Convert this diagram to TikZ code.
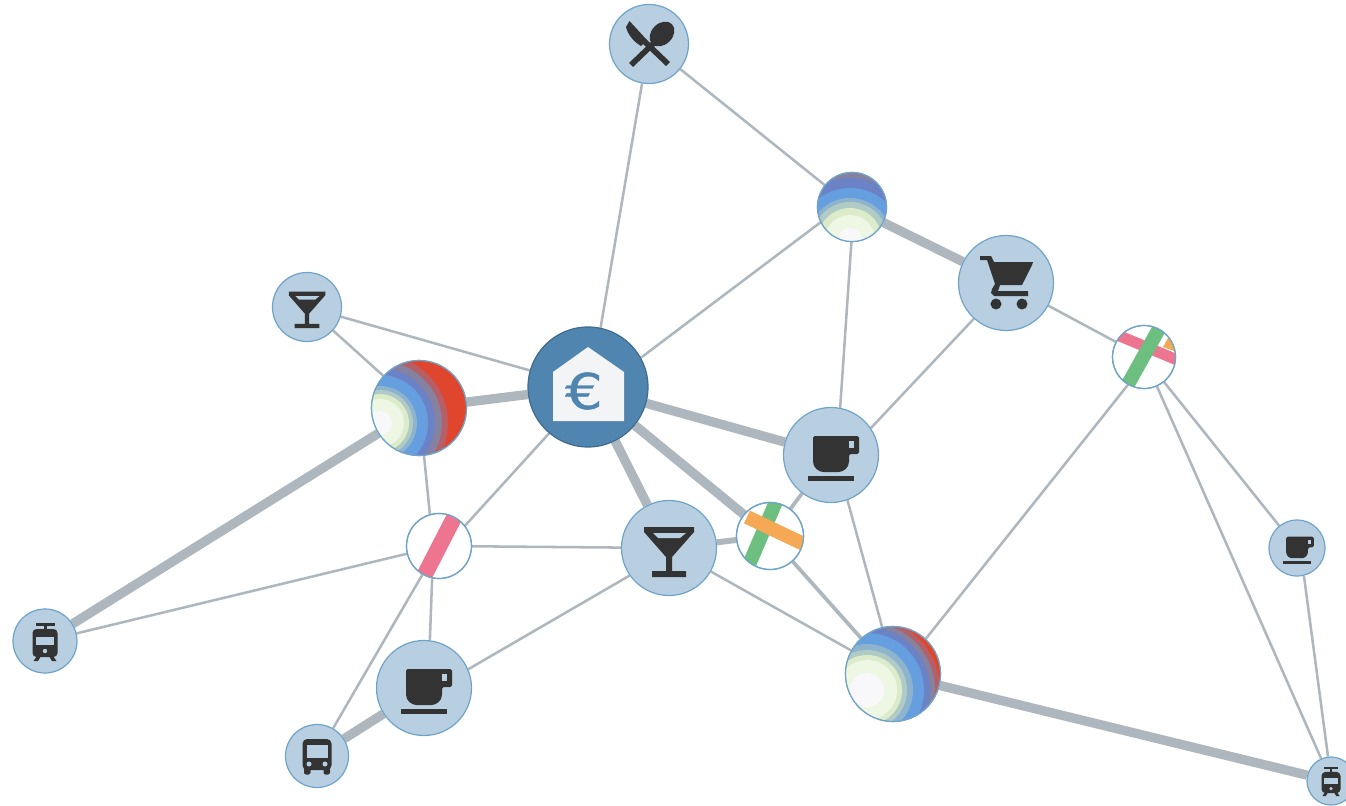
\documentclass[tikz,border=0pt]{standalone}
\usepackage{fontspec}
\newfontfamily\eurofont[FakeBold=0.8,FakeStretch=1.2]{DejaVu Sans}
\usetikzlibrary{backgrounds}
\definecolor{nodeblue}{HTML}{B7CFE0}
\definecolor{nodeline}{HTML}{6FA3C9}
\definecolor{eurofill}{HTML}{5085AF}
\definecolor{euroline}{HTML}{3F6C90}
\definecolor{edgecol}{HTML}{AEB7BE}
\definecolor{icondark}{HTML}{333333}
\definecolor{housewhite}{HTML}{F3F4F6}
\definecolor{bA}{HTML}{F8F8FB}
\definecolor{bB}{HTML}{EEF6E4}
\definecolor{bC}{HTML}{DCECCB}
\definecolor{bD}{HTML}{B0CBC6}
\definecolor{bE}{HTML}{8DB4CC}
\definecolor{bF}{HTML}{659FE0}
\definecolor{bG}{HTML}{6B82C6}
\definecolor{bH}{HTML}{85819F}
\definecolor{bI}{HTML}{B65F66}
\definecolor{bJ}{HTML}{E0462E}
\definecolor{stripePink}{HTML}{EE7590}
\definecolor{stripeGreen}{HTML}{6CBF7F}
\definecolor{stripeOrange}{HTML}{F5A955}
\tikzset{
  x=0.75pt,y=-0.75pt,
  hub/.style={circle,draw=nodeline,line width=0.9pt,fill=nodeblue,inner sep=0pt,minimum size={(#1-1)*0.75pt}},
  ballnode/.style={circle,draw=nodeline,line width=0.9pt,fill=white,inner sep=0pt,minimum size={(#1-1)*0.75pt}},
  euronode/.style={circle,draw=euroline,line width=0.9pt,fill=eurofill,inner sep=0pt,minimum size={(#1-1)*0.75pt}},
  thinedge/.style={draw=edgecol,line width=1.9pt},
  midedge/.style={draw=edgecol,line width=2.8pt},
  fatedge/.style={draw=edgecol,line width=7pt},
  icon/.style={fill=icondark,draw=none},
  iconhole/.style={fill=nodeblue,draw=none},
  stripeline/.style={line width=#1*0.75pt}
}
\newcommand{\iconCup}[2]{\begin{scope}[shift={(#1.center)},scale=#2]
  \fill[icon,rounded corners=1.2pt] (-18,-19) -- (28,-19) -- (28,-1) -- (18,-1) -- (18,5) .. controls (18,13) and (12,17) .. (6,17) -- (-6,17) .. controls (-12,17) and (-18,13) .. (-18,5) -- cycle;
  \fill[iconhole] (18,-14) rectangle (23,-7);
  \fill[icon] (-23,21) rectangle (23,26);
\end{scope}}
\newcommand{\iconGlass}[2]{\begin{scope}[shift={(#1.center)},scale=#2]
  \fill[icon] (-25,-21) -- (25,-21) -- (25,-16) -- (3,9) -- (3,23) -- (17,23) -- (17,29) -- (-17,29) -- (-17,23) -- (-3,23) -- (-3,9) -- (-25,-16) -- cycle;
  \fill[iconhole] (-16,-15) -- (17,-15) -- (11,-10) -- (-11,-10) -- cycle;
\end{scope}}
\newcommand{\iconTram}[2]{\begin{scope}[shift={(#1.center)},scale=#2]
  \fill[icon] (-9.5,-18.5) rectangle (9.5,-15.5);
  \fill[icon] (-1.5,-16) rectangle (1.5,-11);
  \fill[icon,rounded corners=3pt] (-12.5,-12) rectangle (12.5,16);
  \fill[iconhole] (-9,-4.5) rectangle (9,4);
  \fill[iconhole] (0,10) circle (2.2);
  \fill[icon] (-8,15) -- (-4,15) -- (-7,20) -- (-11.5,20) -- cycle;
  \fill[icon] (8,15) -- (4,15) -- (7,20) -- (11.5,20) -- cycle;
\end{scope}}
\newcommand{\iconBus}[2]{\begin{scope}[shift={(#1.center)},scale=#2]
  \fill[icon,rounded corners=3.5pt] (-14.5,-17) rectangle (14.5,14);
  \fill[iconhole] (-10.5,-11) rectangle (10.5,2);
  \fill[iconhole] (-8,8) circle (2.5);
  \fill[iconhole] (8,8) circle (2.5);
  \fill[icon,rounded corners=1.5pt] (-13,12) rectangle (-6.5,18.5);
  \fill[icon,rounded corners=1.5pt] (6.5,12) rectangle (13,18.5);
\end{scope}}
\newcommand{\iconCart}[2]{\begin{scope}[shift={(#1.center)},scale=#2]
  \fill[icon] (-26,-27) -- (-15,-27) -- (-12,-21) -- (27,-21) -- (26,-18) -- (16,2) -- (-6,2) -- (-8,8) -- (22,8) -- (22,13) -- (-12,13) -- (-15,10) -- (-14,6) -- (-11,1) -- (-19,-23) -- (-26,-23) -- cycle;
  \fill[icon] (-10,21) circle (5.5);
  \fill[icon] (16,21) circle (5.5);
\end{scope}}
\newcommand{\iconCutlery}[2]{\begin{scope}[shift={(#1.center)},scale=#2]
  \fill[icon] (-19.5,-23) -- (-3,-5) -- (21,18) -- (17,22) -- (-6,0) -- (-8,2) .. controls (-15,-2) and (-21,-9) .. (-23,-17) -- cycle;
  \fill[icon,rotate around={45:(13,-10)}] (13,-10) ellipse (14 and 10.5);
  \fill[icon] (5,-5) -- (9,-1) -- (-16,23) -- (-20,19) -- cycle;
\end{scope}}
\newcommand{\ballfill}[4]{% node, cx, cy, radii list
  \begin{scope}
    \clip (#1.center) circle (#4);
    \fill[bJ] (#1.center) circle (#4);
    \foreach \rad/\col in {#3}{\fill[\col] (#2) circle (\rad);}
  \end{scope}
  \draw[nodeline,line width=0.9pt] (#1.center) circle (#4);
}
\begin{document}
\begin{tikzpicture}
\useasboundingbox (0,0) rectangle (1346,806);
% nodes
\node[hub=80] (spoon) at (649,44) {};
\node[ballnode=70] (ballT) at (852,207) {};
\node[hub=96] (cart) at (1006,283) {};
\node[ballnode=64] (crossR) at (1144,357) {};
\node[hub=70] (glassS) at (307,307) {};
\node[euronode=121] (euro) at (588,387) {};
\node[ballnode=96] (ballL) at (419,408) {};
\node[hub=96] (cupC) at (831,455) {};
\node[ballnode=66] (pink) at (439,546) {};
\node[hub=96] (glassB) at (669,548) {};
\node[ballnode=68] (crossC) at (770,536) {};
\node[hub=57] (cupS) at (1297,548) {};
\node[hub=65] (tramL) at (45,641) {};
\node[hub=96] (cupB) at (424,688) {};
\node[ballnode=96] (ballB) at (893,674) {};
\node[hub=64] (bus) at (317,756) {};
\node[hub=49] (tramR) at (1331,781) {};
% edges
\begin{pgfonlayer}{background}
\draw[thinedge] (spoon.-100) -- (euro.78);
\draw[thinedge] (spoon) -- (ballT);
\draw[thinedge] (ballT.206) -- (euro.29);
\draw[thinedge] (ballT.-91) -- (cupC.79);
\draw[thinedge] (cart.228) -- (cupC.34);
\draw[thinedge] (cart) -- (crossR);
\draw[thinedge] (crossR.240) -- (ballB.47);
\draw[thinedge] (crossR) -- (cupS);
\draw[thinedge] (crossR) -- (tramR);
\draw[thinedge] (cupS.-76) -- (tramR.97);
\draw[thinedge] (glassS) -- (euro);
\draw[thinedge] (glassS) -- (ballL);
\draw[thinedge] (ballL.-84) -- (pink.106);
\draw[thinedge] (euro.230) -- (pink.38);
\draw[thinedge] (pink) -- (glassB);
\draw[thinedge] (pink) -- (tramL);
\draw[thinedge] (pink.-102) -- (cupB.83);
\draw[thinedge] (pink) -- (bus);
\draw[thinedge] (cupB.23) -- (glassB.215);
\draw[thinedge] (glassB) -- (ballB);
\draw[midedge] (crossC) -- (cupC);
\draw[midedge] (crossC) -- (ballB);
\draw[thinedge] (cupC.-70) -- (ballB.103);
\draw[fatedge] (ballT) -- (cart);
\draw[fatedge] (ballL) -- (euro);
\draw[fatedge] (ballL) -- (tramL);
\draw[fatedge] (euro) -- (cupC);
\draw[fatedge] (euro) -- (glassB);
\draw[fatedge] (euro) -- (crossC);
\draw[midedge,line width=4.5pt] (glassB) -- (crossC);
\draw[fatedge] (ballB) -- (tramR);
\draw[fatedge] (bus) -- (cupB);
\end{pgfonlayer}
% rainbow balls
\ballfill{ballL}{380,423}{68/bI,62/bH,55/bG,48/bF,37/bE,33/bD,29/bC,24/bB,12/bA}{47.5}
\ballfill{ballB}{867,690}{73/bI,68/bH,63/bG,57/bF,46/bE,40/bD,35/bC,30/bB,17/bA}{47.5}
\ballfill{ballT}{850,240}{67/bH,62/bG,52/bF,42/bE,38/bD,32/bC,25/bB,12/bA}{34.5}
% stripes
\begin{scope}
  \clip (pink.center) circle (32.5);
  \draw[stripePink,stripeline=16] (458,510) -- (421,582);
\end{scope}
\draw[nodeline,line width=0.9pt] (pink.center) circle (32.5);
\begin{scope}
  \clip (crossC.center) circle (33.5);
  \draw[stripeGreen,stripeline=14] (778,497) -- (748,567);
  \draw[stripeOrange,stripeline=14] (747,517) -- (808,546);
\end{scope}
\draw[nodeline,line width=0.9pt] (crossC.center) circle (33.5);
\begin{scope}
  \clip (crossR.center) circle (31.5);
  \draw[stripePink,stripeline=11] (1115,334) -- (1182,362);
  \fill[stripeOrange] (1163,347) -- (1168,338) -- (1178,345) -- (1177,352) -- cycle;
  \draw[stripeGreen,stripeline=14] (1160,327) -- (1127,386);
\end{scope}
\draw[nodeline,line width=0.9pt] (crossR.center) circle (31.5);
% icons
\iconCutlery{spoon}{1}
\iconCart{cart}{1}
\iconGlass{glassS}{0.73}
\iconGlass{glassB}{1}
\iconCup{cupC}{1}
\iconCup{cupB}{1}
\iconCup{cupS}{0.6}
\iconTram{tramL}{1}
\iconTram{tramR}{0.76}
\iconBus{bus}{1}
\begin{scope}[shift={(euro.center)}]
  \fill[housewhite] (0,-40) -- (36,-15) -- (36,34) -- (-35,34) -- (-35,-15) -- cycle;
  \node[text=eurofill,font=\eurofont\fontsize{37pt}{37pt}\selectfont,inner sep=0pt] (eurosign) at (-4,4) {€};
\end{scope}
\end{tikzpicture}
\end{document}
